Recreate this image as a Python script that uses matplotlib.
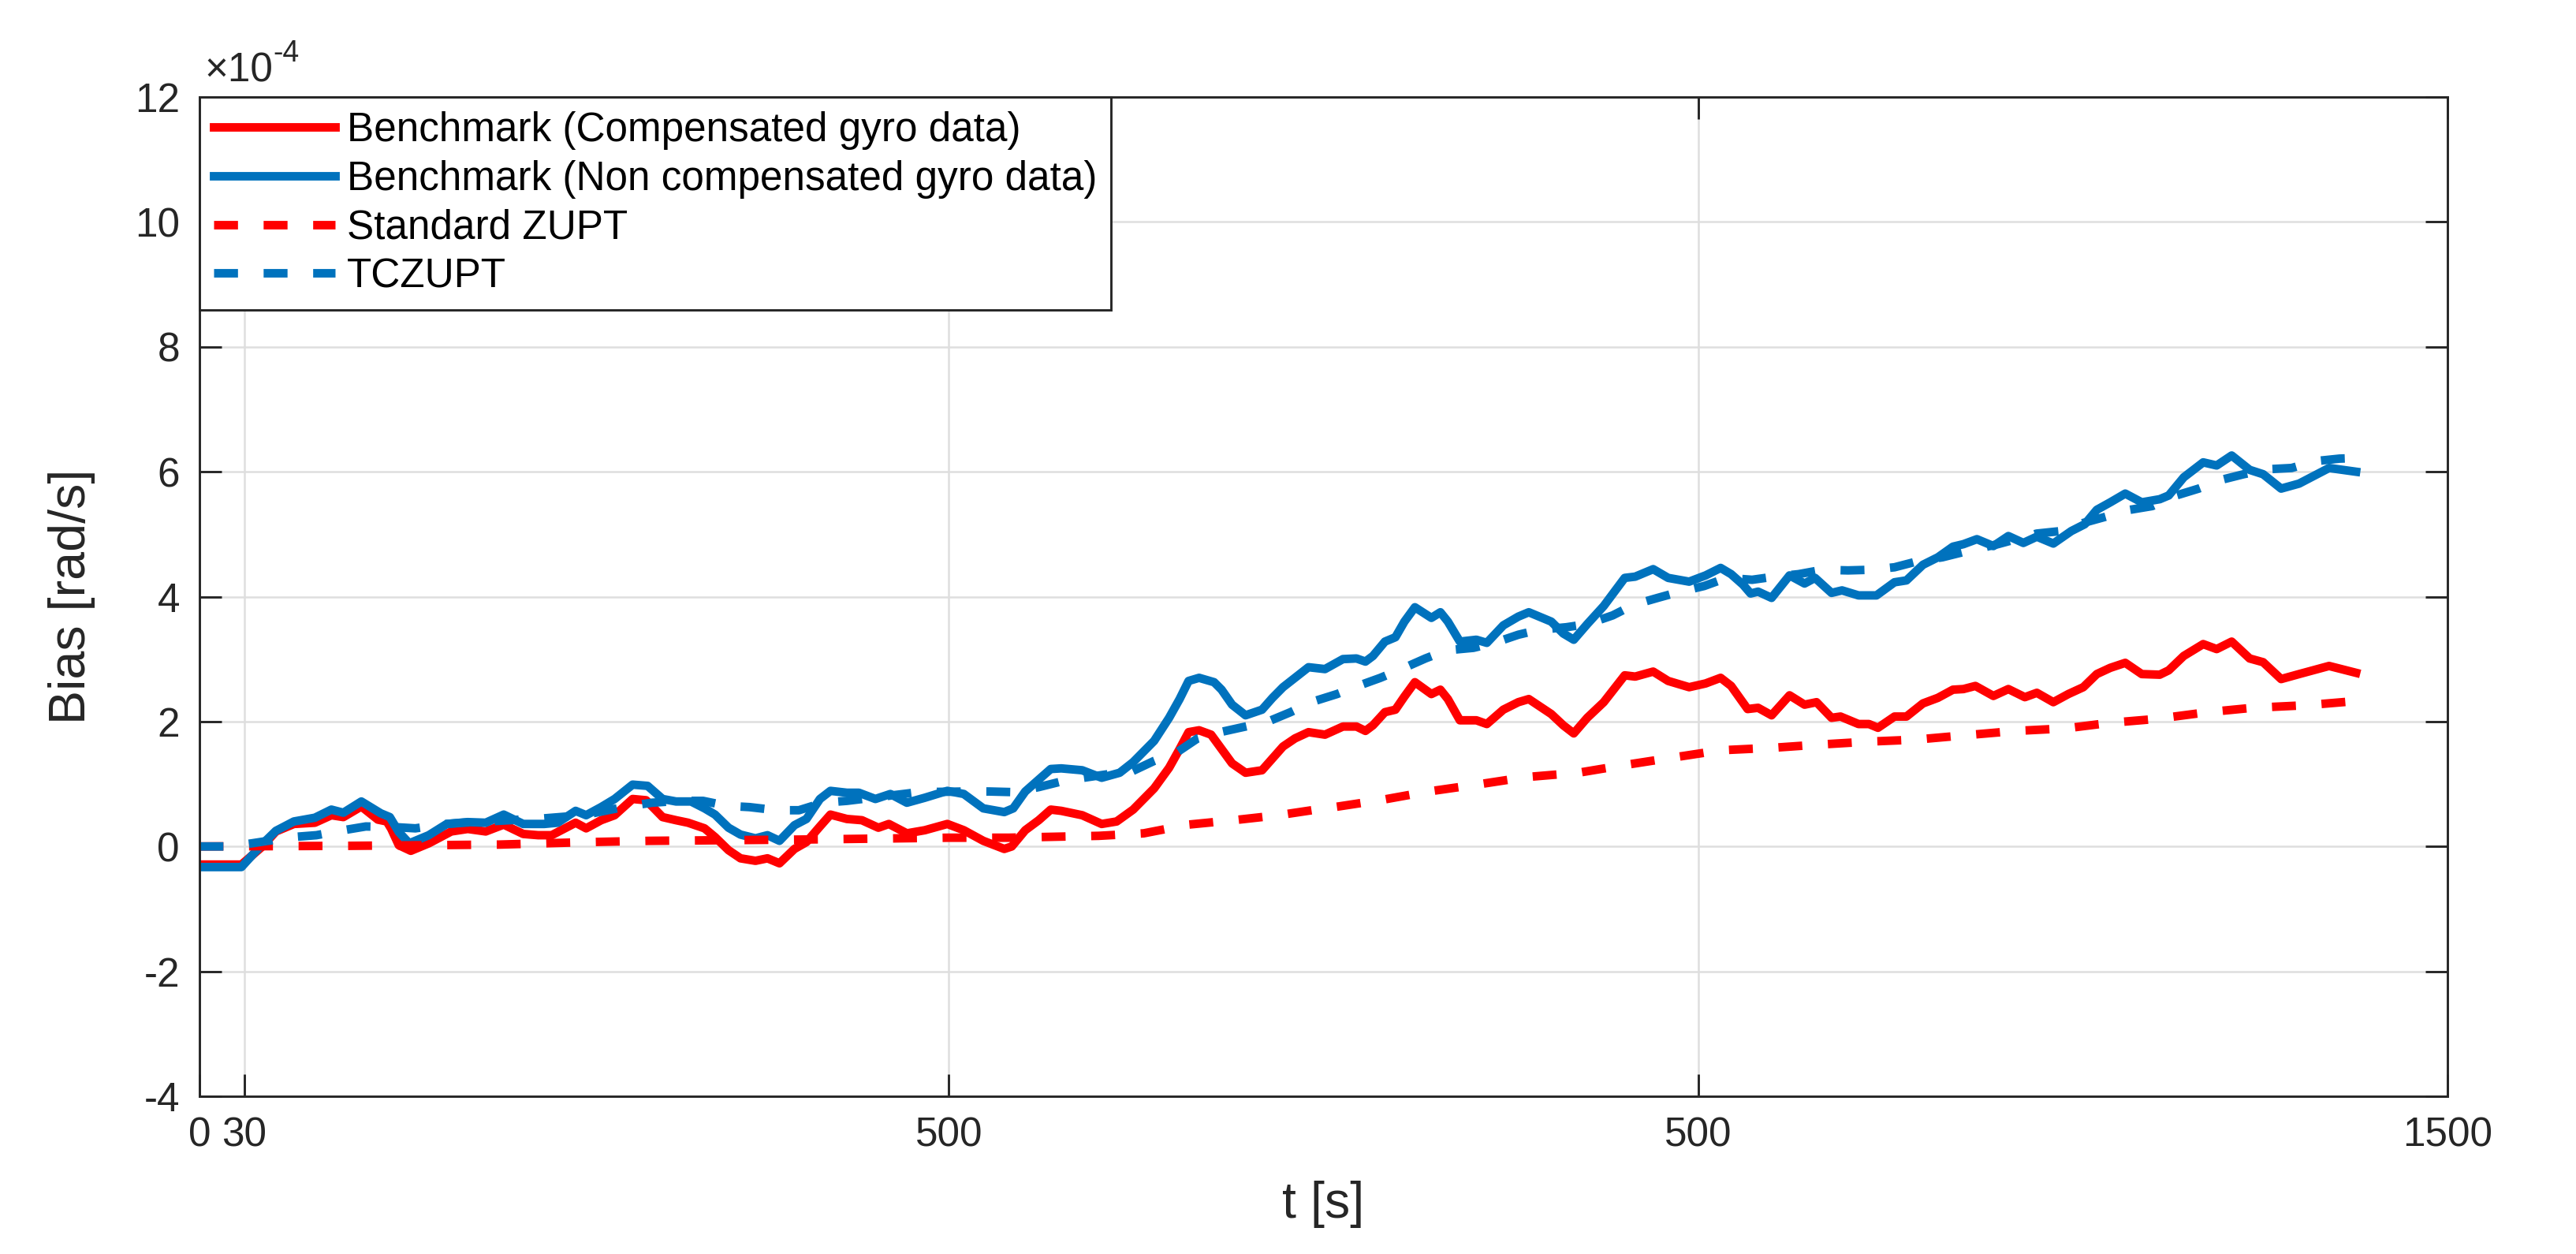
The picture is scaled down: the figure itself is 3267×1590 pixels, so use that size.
import numpy as np
import matplotlib
matplotlib.use('Agg')
import matplotlib.pyplot as plt
from matplotlib.ticker import FuncFormatter

plt.rcParams['font.family'] = ['Liberation Sans', 'DejaVu Sans']
plt.rcParams['axes.unicode_minus'] = False

# --- data (bias in units of 1e-4 rad/s) ---
t_comp = [0, 28, 42, 51, 63, 77, 88, 96, 108, 119, 125, 128, 133, 141, 153, 168, 179, 191, 203, 216,
          226, 235, 251, 258, 268, 277, 289, 298, 309, 318, 326, 337, 344, 353, 361, 371, 379, 387, 397,
          405, 414, 421, 432, 442, 453, 460, 472, 484, 499, 510, 523, 537, 542, 551, 560, 568, 575, 589,
          602, 612, 623, 637, 647, 654, 660, 667, 675, 682, 689, 698, 709, 716, 723, 731, 740, 751, 763,
          772, 778, 783, 791, 798, 804, 811, 822, 828, 833, 841, 852, 859, 870, 880, 887, 902, 910, 917,
          926, 937, 951, 958, 970, 980, 994, 1005, 1015, 1022, 1033, 1040, 1049, 1061, 1071, 1079, 1089,
          1095, 1107, 1114, 1120, 1131, 1139, 1150, 1160, 1170, 1177, 1185, 1197, 1207, 1218, 1226, 1237,
          1247, 1257, 1266, 1275, 1285, 1296, 1308, 1314, 1324, 1337, 1346, 1356, 1368, 1377, 1389, 1401,
          1421, 1439]
v_comp = [-0.29, -0.29, 0.0, 0.24, 0.36, 0.38, 0.50, 0.47, 0.64, 0.43, 0.40, 0.28, 0.02, -0.07, 0.05,
          0.24, 0.28, 0.24, 0.35, 0.20, 0.18, 0.18, 0.38, 0.29, 0.42, 0.50, 0.76, 0.74, 0.47, 0.42, 0.38,
          0.29, 0.15, -0.06, -0.19, -0.23, -0.19, -0.27, -0.04, 0.07, 0.32, 0.51, 0.44, 0.42, 0.30, 0.36,
          0.21, 0.26, 0.36, 0.26, 0.09, -0.04, 0.0, 0.26, 0.42, 0.59, 0.57, 0.50, 0.36, 0.40, 0.59, 0.93,
          1.26, 1.56, 1.83, 1.86, 1.79, 1.56, 1.33, 1.18, 1.22, 1.41, 1.60, 1.73, 1.83, 1.79, 1.92, 1.92,
          1.85, 1.94, 2.15, 2.19, 2.40, 2.63, 2.44, 2.51, 2.36, 2.02, 2.02, 1.96, 2.19, 2.31, 2.36, 2.12,
          1.94, 1.81, 2.06, 2.31, 2.74, 2.72, 2.80, 2.65, 2.55, 2.61, 2.70, 2.57, 2.20, 2.22, 2.10, 2.42,
          2.27, 2.31, 2.06, 2.08, 1.96, 1.96, 1.90, 2.08, 2.08, 2.29, 2.38, 2.51, 2.52, 2.57, 2.41, 2.52,
          2.39, 2.46, 2.31, 2.44, 2.55, 2.76, 2.86, 2.94, 2.76, 2.75, 2.82, 3.05, 3.24, 3.16, 3.28, 3.01,
          2.95, 2.68, 2.76, 2.89, 2.78]

t_noncomp = [0, 28, 42, 51, 63, 77, 88, 96, 108, 121, 127, 133, 140, 153, 165, 179, 191, 203, 216, 230,
             239, 251, 258, 268, 277, 289, 299, 309, 318, 328, 337, 344, 353, 361, 371, 379, 387, 397,
             405, 414, 421, 432, 440, 451, 461, 472, 484, 499, 510, 523, 537, 543, 551, 560, 568, 575,
             589, 602, 614, 623, 637, 647, 654, 660, 667, 677, 682, 689, 698, 709, 716, 723, 731, 740,
             751, 763, 772, 778, 783, 791, 798, 804, 811, 822, 828, 833, 841, 852, 859, 870, 880, 887,
             902, 910, 917, 926, 937, 951, 958, 970, 980, 994, 1005, 1015, 1022, 1030, 1035, 1040, 1049,
             1061, 1071, 1078, 1089, 1096, 1107, 1119, 1131, 1139, 1150, 1160, 1170, 1177, 1186, 1197,
             1207, 1217, 1226, 1237, 1249, 1258, 1266, 1275, 1285, 1296, 1308, 1314, 1324, 1337, 1346,
             1356, 1368, 1377, 1389, 1401, 1421, 1439]
v_noncomp = [-0.33, -0.33, 0.04, 0.25, 0.40, 0.46, 0.59, 0.54, 0.72, 0.53, 0.47, 0.23, 0.05, 0.18, 0.36,
             0.39, 0.38, 0.51, 0.36, 0.36, 0.38, 0.57, 0.50, 0.63, 0.76, 0.99, 0.97, 0.76, 0.72, 0.72,
             0.61, 0.51, 0.30, 0.19, 0.13, 0.18, 0.09, 0.34, 0.44, 0.76, 0.89, 0.86, 0.86, 0.76, 0.84,
             0.70, 0.78, 0.89, 0.84, 0.61, 0.55, 0.61, 0.88, 1.07, 1.24, 1.25, 1.22, 1.10, 1.18, 1.35,
             1.69, 2.06, 2.36, 2.65, 2.70, 2.63, 2.51, 2.27, 2.10, 2.19, 2.38, 2.55, 2.70, 2.87, 2.84,
             3.00, 3.01, 2.96, 3.05, 3.28, 3.35, 3.60, 3.83, 3.66, 3.75, 3.60, 3.28, 3.31, 3.26, 3.54,
             3.68, 3.75, 3.60, 3.41, 3.31, 3.56, 3.85, 4.30, 4.32, 4.44, 4.30, 4.24, 4.34, 4.46, 4.36,
             4.19, 4.05, 4.08, 3.98, 4.34, 4.21, 4.30, 4.06, 4.10, 4.02, 4.02, 4.23, 4.26, 4.51, 4.63,
             4.80, 4.84, 4.92, 4.81, 4.97, 4.86, 4.96, 4.85, 5.05, 5.16, 5.39, 5.51, 5.65, 5.51, 5.56,
             5.62, 5.91, 6.15, 6.10, 6.26, 6.03, 5.96, 5.73, 5.81, 6.06, 6.00]

t_zupt = [0, 100, 200, 260, 300, 400, 500, 540, 600, 630, 660, 690, 720, 745, 760, 790, 820, 855, 885,
          920, 950, 985, 1015, 1050, 1080, 1115, 1145, 1178, 1212, 1245, 1275, 1305, 1340, 1370, 1405, 1440]
v_zupt = [0.0, 0.01, 0.03, 0.07, 0.09, 0.11, 0.14, 0.14, 0.17, 0.21, 0.35, 0.42, 0.50, 0.59, 0.64, 0.75,
          0.88, 1.00, 1.11, 1.18, 1.30, 1.43, 1.54, 1.58, 1.63, 1.68, 1.71, 1.78, 1.85, 1.89, 1.98, 2.04,
          2.15, 2.22, 2.26, 2.33]

t_tczupt = [0, 20, 35, 62, 78, 96, 111, 130, 144, 165, 176, 230, 256, 287, 302, 320, 336, 352, 367, 385,
            400, 416, 432, 480, 512, 527, 543, 560, 575, 590, 607, 622, 637, 653, 666, 681, 698, 713, 728,
            743, 759, 773, 788, 802, 818, 832, 850, 864, 880, 894, 912, 926, 943, 957, 973, 988, 1004,
            1019, 1036, 1051, 1067, 1083, 1100, 1115, 1131, 1147, 1163, 1178, 1200, 1226, 1242, 1257,
            1272, 1288, 1303, 1319, 1334, 1349, 1364, 1380, 1396, 1412, 1428, 1440]
v_tczupt = [0.0, 0.0, 0.05, 0.15, 0.18, 0.26, 0.32, 0.31, 0.29, 0.36, 0.38, 0.45, 0.50, 0.65, 0.70, 0.73,
            0.73, 0.65, 0.63, 0.58, 0.58, 0.70, 0.73, 0.87, 0.88, 0.88, 0.87, 0.95, 1.04, 1.10, 1.16, 1.20,
            1.37, 1.52, 1.73, 1.83, 1.92, 2.00, 2.15, 2.32, 2.44, 2.57, 2.70, 2.84, 3.01, 3.14, 3.18, 3.26,
            3.39, 3.47, 3.51, 3.56, 3.70, 3.87, 3.98, 4.08, 4.17, 4.30, 4.27, 4.32, 4.36, 4.43, 4.42, 4.43,
            4.47, 4.57, 4.63, 4.72, 4.84, 5.01, 5.05, 5.18, 5.28, 5.39, 5.45, 5.62, 5.73, 5.87, 5.96, 6.04,
            6.06, 6.17, 6.21, 6.22]

labels = ['Benchmark (Compensated gyro data)', 'Benchmark (Non compensated gyro data)',
          'Standard ZUPT', 'TCZUPT']
x_ticks = [0, 30, 500, 1000, 1500]
x_ticklabels = ['0', '30', '500', '500', '1500']

RED = '#FF0000'
BLUE = '#0072BD'
AX_COL = '#262626'
SCALE = 1e-4

fig = plt.figure(figsize=(3267 / 300, 1590 / 300), dpi=300)
ax = fig.add_axes([253 / 3267, 200 / 1590, 2851 / 3267, 1267 / 1590])

lw = 2.6
dash = (0, (2.8, 3.0))
ax.plot(t_comp, np.array(v_comp) * SCALE, color=RED, lw=lw, label=labels[0])
ax.plot(t_noncomp, np.array(v_noncomp) * SCALE, color=BLUE, lw=lw, label=labels[1])
ax.plot(t_zupt, np.array(v_zupt) * SCALE, color=RED, lw=lw, ls=dash, dash_capstyle='butt', label=labels[2])
ax.plot(t_tczupt, np.array(v_tczupt) * SCALE, color=BLUE, lw=lw, ls=dash, dash_capstyle='butt', label=labels[3])

ax.set_xlim(0, 1500)
ax.set_ylim(-4e-4, 12e-4)
ax.set_xticks(x_ticks)
ax.set_xticklabels(x_ticklabels)
ax.set_yticks(np.arange(-4, 13, 2) * SCALE)
ax.yaxis.set_major_formatter(FuncFormatter(lambda v, pos: '%d' % round(v / SCALE)))

# exponent label above the top-left corner, MATLAB style
ax.annotate('\u00d710', xy=(0, 1), xycoords='axes fraction', xytext=(1.5, 2),
            textcoords='offset points', ha='left', va='bottom', fontsize=12.3, color=AX_COL)
ax.annotate('-4', xy=(0, 1), xycoords='axes fraction', xytext=(22.5, 9),
            textcoords='offset points', ha='left', va='bottom', fontsize=9, color=AX_COL)

ax.grid(True, color='#DEDEDE', lw=0.6)
ax.set_axisbelow(True)
ax.tick_params(direction='in', length=6.8, width=0.7, colors=AX_COL, labelsize=12.3,
               top=True, right=True, pad=6)
for s in ax.spines.values():
    s.set_color(AX_COL)
    s.set_linewidth(0.7)

ax.set_xlabel('t [s]', fontsize=15.5, color=AX_COL, labelpad=8)
ax.set_ylabel('Bias [rad/s]', fontsize=15.5, color=AX_COL, labelpad=12)

leg = ax.legend(loc='upper left', bbox_to_anchor=(0, 1), borderaxespad=0, fontsize=12.3,
                fancybox=False, framealpha=1, edgecolor=AX_COL, handlelength=3.0,
                handletextpad=0.3, borderpad=0.35, labelspacing=0.25)
leg.get_frame().set_linewidth(0.7)

fig.savefig('out.png', dpi=300)
